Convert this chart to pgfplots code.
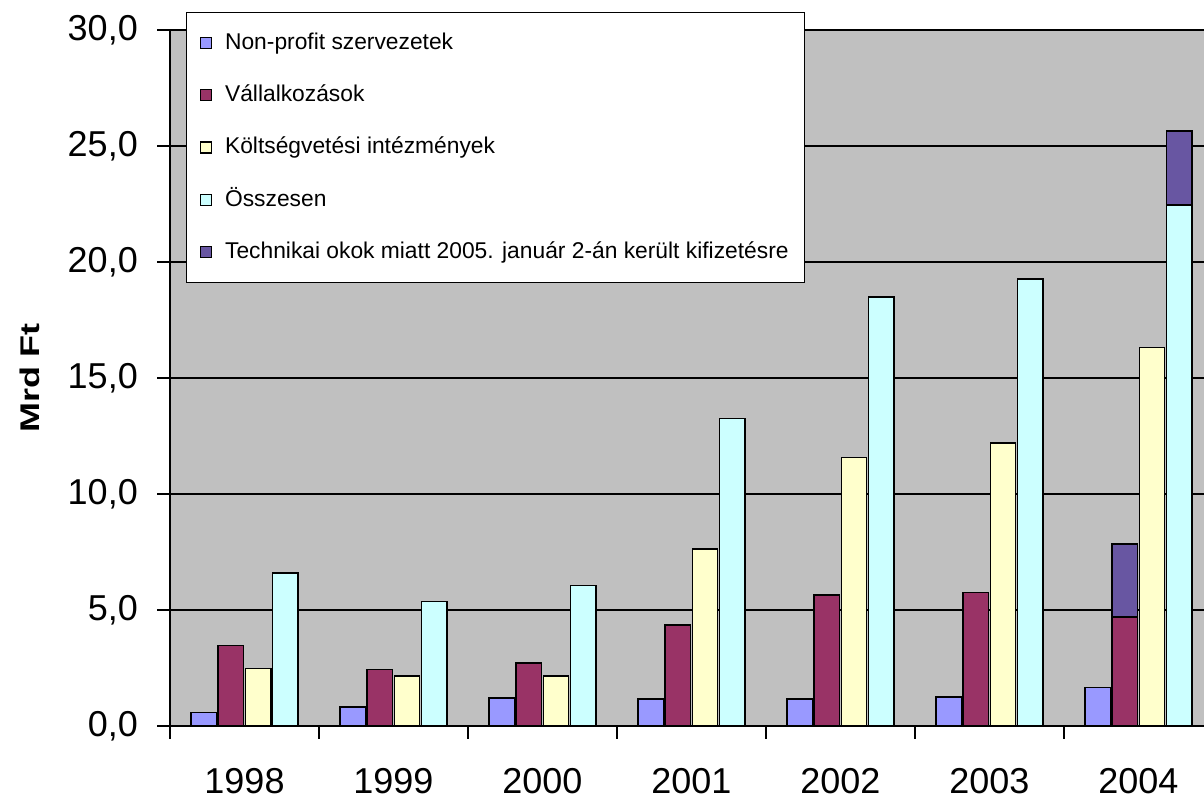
\documentclass[border=0pt]{standalone}
\usepackage{pgfplots}
\pgfplotsset{compat=1.18}
\usepackage{fontspec}
\setmainfont{Liberation Sans}
\definecolor{cblue}{RGB}{153,153,255}
\definecolor{cmaroon}{RGB}{153,51,102}
\definecolor{cyellow}{RGB}{255,255,204}
\definecolor{ccyan}{RGB}{204,255,255}
\definecolor{cpurple}{RGB}{104,86,162}
\definecolor{bggray}{RGB}{192,192,192}
\begin{document}
\begin{tikzpicture}[x=1pt,y=1pt]
\path[use as bounding box] (0,0) rectangle (1204,799);
\begin{axis}[
  at={(170pt,73pt)}, anchor=south west,
  scale only axis, width=1034pt, height=696pt,
  xmin=-0.5, xmax=6.44, ymin=0, ymax=30,
  axis background/.style={fill=bggray},
  axis x line*=bottom, axis y line*=left,
  axis line style={black, line width=1.5pt},
  ybar, bar width=0.17,
  legend image code/.code={\draw[#1, draw=black, line width=1.2pt] (0pt,-5.5pt) rectangle (11pt,5.5pt); \path (21pt,0pt);},
  tick align=outside, major tick length=13pt,
  tick style={black, line width=1.5pt},
  ytick={0,5,...,30},
  ymajorgrids, major grid style={black, line width=1.5pt},
  /pgf/number format/assume math mode=true,
  yticklabel style={/pgf/number format/fixed, /pgf/number format/fixed zerofill,
    /pgf/number format/precision=1, /pgf/number format/use comma,
    font=\fontsize{36}{40}\selectfont, anchor=east, inner sep=0pt, xshift=-19pt},
  xtick={-0.5,0.5,...,5.5},
  xticklabels={1998,1999,2000,2001,2002,2003,2004},
  xticklabel style={font=\fontsize{36}{40}\selectfont, anchor=north, inner sep=0pt, xshift=74.5pt, yshift=-29pt},
  ylabel={\scalebox{1}[0.75]{\bfseries Mrd Ft}},
  ylabel style={at={(axis description cs:-0.1354,0.5)}, anchor=center, font=\fontsize{36}{40}\selectfont},
  legend cell align=left,
  legend style={at={(axis description cs:0.01547,1.0259)}, anchor=north west,
    draw=black, line width=1.5pt, fill=white,
    font=\fontsize{22.8}{28}\selectfont,
    row sep=25.8pt, inner xsep=13pt, inner ysep=17pt,
    nodes={text height=17.5pt, text depth=5pt, inner ysep=2pt, inner xsep=3pt}},
]
\addplot[fill=cpurple, draw=black, line width=1.5pt, bar shift=-0.09125, forget plot] coordinates {(6,7.84)};
\addplot[fill=cpurple, draw=black, line width=1.5pt, bar shift=0.27375, forget plot] coordinates {(6,25.65)};
\addplot[fill=cblue, draw=black, line width=1.5pt, bar shift=-0.27375] coordinates {
(0,0.58) (1,0.82) (2,1.20) (3,1.16) (4,1.16) (5,1.26) (6,1.66)};
\addlegendentry{Non-profit szervezetek}
\addplot[fill=cmaroon, draw=black, line width=1.5pt, bar shift=-0.09125] coordinates {
(0,3.47) (1,2.43) (2,2.71) (3,4.35) (4,5.65) (5,5.76) (6,4.69)};
\addlegendentry{Vállalkozások}
\addplot[fill=cyellow, draw=black, line width=1.5pt, bar shift=0.09125] coordinates {
(0,2.47) (1,2.15) (2,2.15) (3,7.63) (4,11.58) (5,12.20) (6,16.32)};
\addlegendentry{Költségvetési intézmények}
\addplot[fill=ccyan, draw=black, line width=1.5pt, bar shift=0.27375] coordinates {
(0,6.59) (1,5.37) (2,6.06) (3,13.26) (4,18.50) (5,19.27) (6,22.45)};
\addlegendentry{Összesen}
\addlegendimage{fill=cpurple, draw=black}
\addlegendentry{Technikai okok miatt 2005. január 2-án került kifizetésre}
\end{axis}
\end{tikzpicture}
\end{document}
